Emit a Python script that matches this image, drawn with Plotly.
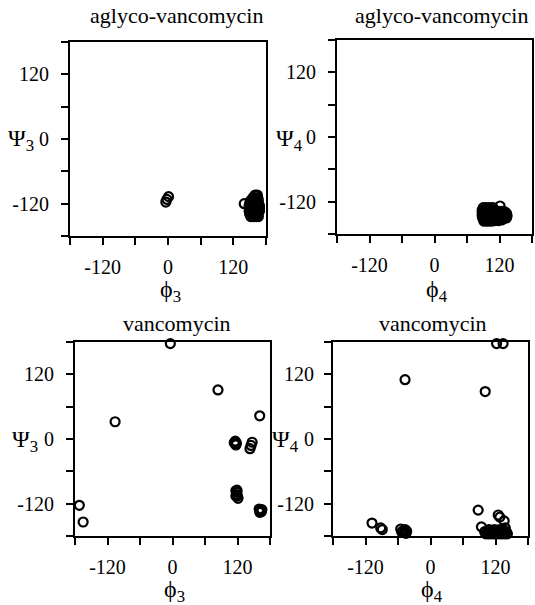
import plotly.graph_objects as go

# Panel 1: aglyco-vancomycin, phi3 / psi3
agly_phi3 = [1, -2, -4, 140,
             160, 164,
             156, 161, 165,
             152, 157, 162, 166,
             150, 155, 160, 165,
             149, 154, 159, 164, 168,
             150, 155, 160, 165, 168,
             149, 154, 159, 164, 168,
             150, 155, 160, 165,
             152, 157, 162, 166]
agly_psi3 = [-107, -112, -117, -120,
             -104, -104,
             -109, -109, -109,
             -114, -114, -114, -114,
             -119, -119, -119, -119,
             -124, -124, -124, -124, -124,
             -129, -129, -129, -129, -129,
             -134, -134, -134, -134, -134,
             -139, -139, -139, -139,
             -144, -144, -144, -144]

# Panel 2: aglyco-vancomycin, phi4 / psi4
agly_phi4 = [121,
             90, 96, 102, 108,
             88, 93, 98, 103, 108, 113, 118, 124, 130,
             88, 93, 98, 103, 108, 113, 118, 123, 128, 133,
             88, 93, 98, 103, 108, 113, 118, 123, 128, 134,
             89, 94, 99, 104, 109, 114, 119, 124, 129, 133,
             91, 96, 101, 106, 112, 118, 124]
agly_psi4 = [-128,
             -131, -131, -131, -131,
             -136, -136, -136, -136, -136, -138, -138, -138, -139,
             -141, -141, -141, -141, -141, -141, -141, -141, -141, -142,
             -146, -146, -146, -146, -146, -146, -146, -146, -146, -146,
             -151, -151, -151, -151, -151, -151, -151, -151, -151, -150,
             -156, -156, -156, -156, -155, -155, -154]

# Panel 3: vancomycin, phi3 / psi3
vanc_phi3 = [-4, 84, -106, 161, -172, -165,
             116, 118, 117, 114,
             147, 145, 143,
             117, 119, 118, 120, 121, 117, 119,
             160, 162, 164, 161, 165]
vanc_psi3 = [177, 91, 32, 43, -123, -154,
             -4, -8, -11, -7,
             -6, -12, -18,
             -96, -99, -103, -106, -110, -106, -95,
             -130, -132, -135, -136, -131]

# Panel 4: vancomycin, phi4 / psi4
vanc_phi4 = [122, 134, -47, 101, 88, 125, 128, 136, 94, -108, -92, -89,
             -55, -51, -47, -44, -48, -53, -45,
             108, 118, 128, 138,
             100, 105, 110, 115, 120, 125, 130, 135, 140,
             102, 107, 112, 117, 122, 127, 132, 137, 142]
vanc_psi4 = [177, 177, 110, 88, -132, -141, -145, -152, -163, -156, -165, -168,
             -167, -170, -168, -171, -174, -173, -175,
             -168, -168, -168, -165,
             -172, -172, -172, -172, -172, -172, -172, -172, -172,
             -176, -176, -176, -176, -176, -176, -176, -176, -176]

titles = ["aglyco-vancomycin", "aglyco-vancomycin", "vancomycin", "vancomycin"]
xlabels = ["ϕ<sub>3</sub>", "ϕ<sub>4</sub>", "ϕ<sub>3</sub>", "ϕ<sub>4</sub>"]
ylabels = ["Ψ<sub>3</sub>", "Ψ<sub>4</sub>", "Ψ<sub>3</sub>", "Ψ<sub>4</sub>"]
tick_vals = [-120, 0, 120]
tick_text = ["-120", "0", "120"]
minor_vals = [-180, -60, 60, 180]

W, H = 535, 605
# panel boxes in page pixels: left, right, top, bottom
boxes = [(70, 266, 42, 236), (337, 532, 40, 234), (75, 270, 342, 536), (333, 528, 342, 536)]
title_pos = [(177, 15), (442, 15), (177, 323), (433, 323)]
xlab_pos = [(170, 291), (437, 291), (174, 591), (432, 591)]
ylab_pos = [(6, 140), (274, 140), (10, 441), (270, 441)]
ylab_standoff = [8, 8, 8, 6]

data = [(agly_phi3, agly_psi3), (agly_phi4, agly_psi4), (vanc_phi3, vanc_psi3), (vanc_phi4, vanc_psi4)]


def px(x):
    return x / W


def py(y):
    return 1 - y / H


FONT = "Liberation Serif, Times New Roman, serif"
fig = go.Figure()
layout = dict(width=W, height=H, margin=dict(l=0, r=0, t=0, b=0),
              paper_bgcolor="white", plot_bgcolor="white", showlegend=False,
              font=dict(family=FONT, color="black", size=20))
annotations = []

for i, ((xs, ys), (l, r, t, b)) in enumerate(zip(data, boxes)):
    n = "" if i == 0 else str(i + 1)
    fig.add_trace(go.Scatter(x=xs, y=ys, mode="markers", xaxis="x" + n, yaxis="y" + n,
                             cliponaxis=False, hoverinfo="skip",
                             marker=dict(symbol="circle-open", size=9, color="black",
                                         line=dict(width=2.2, color="black"))))
    axcommon = dict(range=[-180, 180], showgrid=False, zeroline=False, showline=True,
                    linewidth=2, linecolor="black", mirror=True,
                    ticks="outside", ticklen=7, tickwidth=2, tickcolor="black",
                    tickmode="array", tickvals=tick_vals, ticktext=tick_text,
                    minor=dict(tickmode="array", tickvals=minor_vals, ticks="outside",
                               ticklen=7, tickwidth=2, tickcolor="black"),
                    tickfont=dict(family=FONT, size=20, color="black"))
    layout["xaxis" + n] = dict(axcommon, domain=[px(l), px(r)], anchor="y" + n, ticklabelstandoff=5)
    layout["yaxis" + n] = dict(axcommon, domain=[py(b), py(t)], anchor="x" + n,
                               ticklabelstandoff=ylab_standoff[i])
    tx, ty = title_pos[i]
    annotations.append(dict(text=titles[i], x=px(tx), y=py(ty), xref="paper", yref="paper",
                            showarrow=False, xanchor="center", yanchor="middle",
                            font=dict(family=FONT, size=22, color="black")))
    xx, xy = xlab_pos[i]
    annotations.append(dict(text=xlabels[i], x=px(xx), y=py(xy), xref="paper", yref="paper",
                            showarrow=False, xanchor="center", yanchor="middle",
                            font=dict(family=FONT, size=24, color="black")))
    yx, yy = ylab_pos[i]
    annotations.append(dict(text=ylabels[i], x=px(yx), y=py(yy), xref="paper", yref="paper",
                            showarrow=False, xanchor="left", yanchor="middle",
                            font=dict(family=FONT, size=24, color="black")))

layout["annotations"] = annotations
fig.update_layout(**layout)
fig.write_html("out.html", config={"displayModeBar": False},
               post_script="document.body.style.margin='0';")
